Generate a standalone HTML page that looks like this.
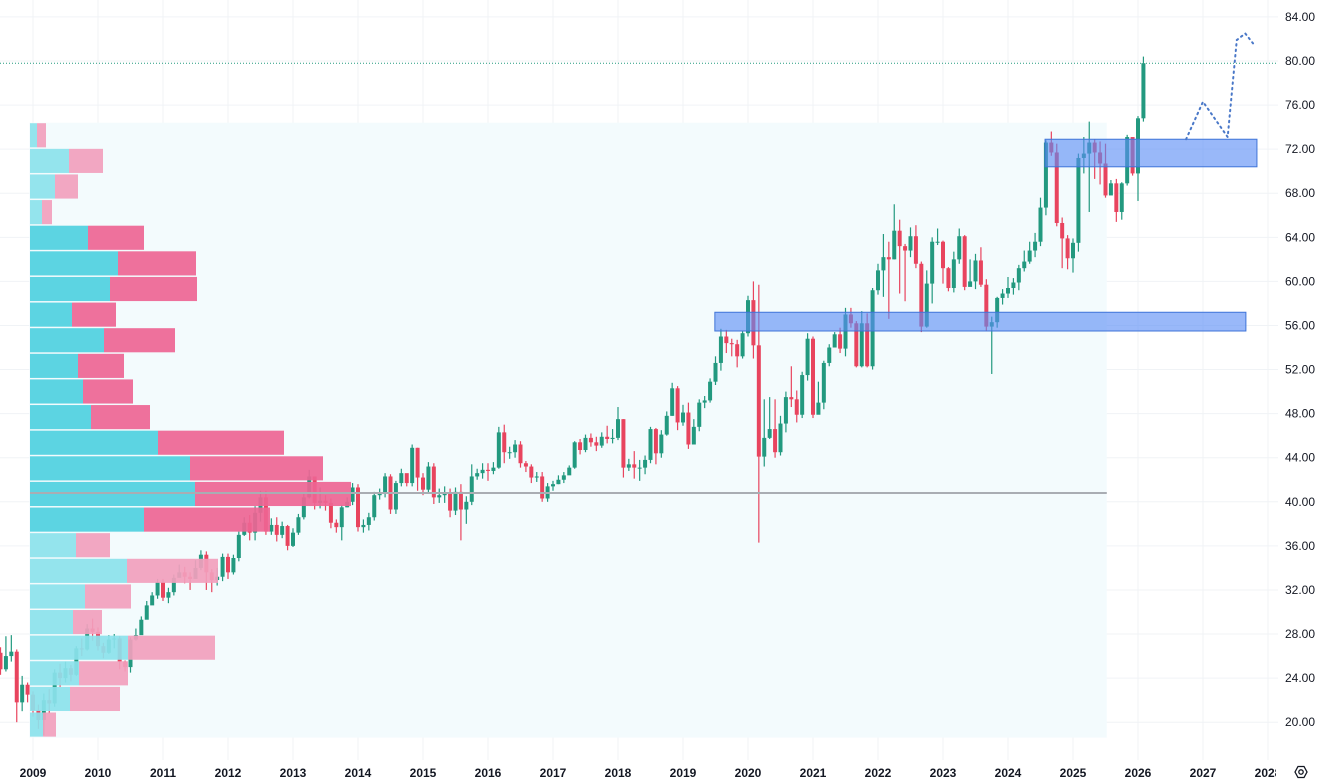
<!DOCTYPE html>
<html><head><meta charset="utf-8">
<style>
html,body{margin:0;padding:0;background:#fff;}
svg{display:block;font-family:"Liberation Sans",sans-serif;}
</style></head>
<body>
<svg id="chart" width="1318" height="784" viewBox="0 0 1318 784" xmlns="http://www.w3.org/2000/svg">
  <rect x="0" y="0" width="1318" height="784" fill="#ffffff"/>
  <g id="grid"></g>
  <g id="profileBg"></g>
  <g id="candles"></g>
  <g id="profile"></g>
  <g id="zones"></g>
  <g id="overlay"></g>
  <rect x="1278" y="0" width="40" height="784" fill="#ffffff"/>
  <g id="yaxis"></g>
  <g id="xaxis"></g>
  <g transform="translate(1301,772)">
    <polygon points="-6,0 -3,-5.5 3,-5.5 6,0 3,5.5 -3,5.5" fill="none" stroke="#131722" stroke-width="1.3"/>
    <circle cx="0" cy="0" r="2.2" fill="none" stroke="#131722" stroke-width="1.3"/>
  </g>
</svg>
<script>
// ---- data ----
const startYear = 2008, startMonth = 6; // Jul 2008 (0-based month)
const firstOpen = 26.3;
const closes = [
24.8,26.0,26.4,21.8,23.4,22.5,
21.1,20.2,22.0,21.7,24.5,24.0,24.9,24.3,26.7,26.6,28.5,28.2,
26.9,26.3,27.5,27.6,25.5,25.0,27.5,27.9,29.3,30.6,31.5,32.7,
31.3,31.8,33.1,33.6,33.2,33.0,34.0,35.2,33.6,32.9,33.2,35.0,
33.6,34.9,37.0,38.1,37.2,39.0,40.4,37.3,37.9,37.0,37.8,36.0,
37.2,38.6,40.4,42.3,39.9,40.1,39.9,38.1,37.7,39.5,40.0,41.3,
37.7,37.9,38.6,40.6,40.8,42.3,39.3,41.7,42.6,41.7,44.9,42.2,
41.1,43.2,40.4,40.6,40.8,39.2,40.9,39.3,40.0,42.3,42.6,42.9,
42.8,43.1,46.3,44.5,44.5,45.2,43.5,43.2,42.2,42.3,40.3,41.4,
41.6,42.0,42.4,43.1,45.4,44.7,45.8,45.4,45.1,45.9,45.7,45.8,
47.5,43.1,43.4,43.1,43.1,43.8,46.6,44.4,46.1,47.8,50.3,47.2,
48.1,45.2,46.8,49.0,49.2,50.9,52.6,55.0,54.4,54.3,53.2,55.3,
58.3,54.2,44.1,45.8,46.6,44.5,47.1,49.5,49.3,47.9,51.5,54.8,
47.9,49.0,52.6,54.0,55.2,53.9,57.0,56.2,52.3,56.2,52.3,59.2,
61.0,62.2,62.0,64.6,63.2,62.8,64.1,61.6,55.9,59.8,63.6,63.6,
61.2,59.4,62.0,64.1,59.5,60.0,61.9,59.7,55.9,56.3,58.5,58.9,
59.4,59.9,61.2,61.8,62.8,63.6,66.7,72.6,71.7,65.3,63.9,62.1,
63.5,71.2,71.6,72.6,71.7,70.7,67.8,68.9,66.3,68.9,73.1,69.8,
74.8,79.8];
const highs = [
26.8,27.8,27.9,26.6,24.2,23.6,
22.8,21.6,22.6,23.0,24.8,25.3,25.5,25.2,26.9,27.6,28.9,29.4,
28.6,27.2,27.9,28.0,27.8,25.6,27.7,28.5,29.6,31.0,31.8,33.0,
33.0,32.2,33.4,34.3,34.1,33.6,34.7,35.6,35.5,33.9,34.0,35.3,
35.3,35.2,37.3,38.6,38.8,39.6,41.0,41.0,38.5,38.6,38.2,37.9,
37.6,38.9,40.8,42.9,42.0,41.3,40.6,40.3,38.4,39.7,40.4,41.7,
41.6,38.4,39.0,40.9,41.2,42.6,42.5,41.9,43.0,42.3,45.2,44.9,
42.6,43.6,43.5,41.2,41.4,41.2,41.3,41.6,40.5,43.4,43.0,43.5,
43.5,43.6,46.8,47.0,45.0,45.6,45.5,43.7,43.4,42.7,42.7,41.7,
41.9,42.4,42.7,43.3,45.5,45.7,46.1,46.2,45.9,46.3,46.9,46.6,
48.6,47.5,43.9,44.6,43.8,44.2,46.8,46.7,46.5,48.2,50.8,50.5,
48.8,49.0,47.5,49.3,49.6,51.2,53.2,55.7,55.6,54.8,54.7,55.5,
58.7,60.0,59.7,49.3,49.5,49.3,47.8,50.0,52.3,50.1,51.8,55.3,
55.0,50.9,52.8,54.3,55.4,55.8,57.6,57.6,56.4,57.3,57.1,59.4,
61.6,64.3,63.6,67.0,65.6,63.4,64.9,65.1,61.8,61.0,64.0,64.8,
63.7,61.3,62.7,64.8,64.2,62.0,62.5,63.1,60.2,56.8,58.6,59.3,
60.4,60.3,61.5,62.8,63.6,64.4,67.6,72.8,73.6,72.5,65.8,64.2,
63.9,71.6,73.1,74.5,72.9,72.7,72.5,69.2,69.3,69.0,73.3,72.7,
75.0,80.4];
const lows = [
24.3,24.6,25.5,20.0,21.0,21.8,
20.5,19.4,18.8,20.8,21.4,23.2,23.6,23.7,24.2,26.0,26.5,27.4,
26.5,25.8,26.2,26.7,24.8,24.6,24.5,27.4,28.4,29.8,30.8,31.2,
31.0,30.8,31.5,33.2,32.6,32.0,33.0,33.8,32.0,31.8,32.4,32.8,
33.0,33.4,34.6,36.9,36.5,36.5,38.2,37.0,37.0,36.4,36.7,35.6,
35.9,37.0,38.4,40.3,39.3,39.4,39.2,37.6,37.2,36.5,39.5,39.7,
37.3,37.2,37.4,38.3,40.2,40.4,38.9,38.9,41.4,41.4,41.4,41.0,
40.6,40.8,39.8,39.9,39.9,38.6,38.8,36.5,38.0,39.7,42.0,42.1,
41.9,42.5,43.0,43.5,43.9,44.0,43.1,42.7,41.7,41.8,40.0,40.0,
41.0,41.6,41.7,42.6,43.0,44.3,44.5,45.0,44.6,44.9,45.3,45.3,
45.6,42.2,42.8,42.1,41.9,42.5,43.5,43.4,44.0,46.0,47.8,46.5,
46.9,44.8,45.2,46.4,48.5,49.0,50.6,51.9,53.5,53.2,52.2,53.0,
55.0,53.0,36.3,43.2,45.7,44.0,44.2,46.3,48.6,47.2,47.6,51.0,
47.6,48.6,48.4,52.3,54.3,53.5,53.2,55.8,52.2,52.2,52.2,52.0,
58.8,58.6,56.6,62.0,58.9,58.2,62.2,61.2,55.4,55.8,58.0,63.3,
59.8,59.1,59.0,61.6,59.2,59.6,59.3,59.5,55.5,51.6,55.8,57.9,
58.5,58.8,59.2,60.9,61.6,62.2,63.2,66.0,71.4,65.0,61.2,61.1,
60.8,62.7,69.8,66.3,69.3,68.8,67.6,68.3,65.4,65.6,68.7,69.6,
67.3,74.5];
// volume profile rows (top row first), relative volume units
const profileTop = 74.4, profileBottom = 18.6;
const upVol   = [7,39,25,12,58,88,80,42,74,48,53,61,128,160,165,114,46,97,55,43,98,49,40,13];
const downVol = [9,34,23,10,56,78,87,44,71,46,50,59,126,133,156,126,34,91,46,29,87,49,50,13];
const valueAreaRows = [4,15]; // inclusive
const pocPrice = 40.8;
const profileStartYear = 2008.99, profileEndYear = 2025.52;
const zoneA = {y1:57.2, y2:55.5, t1:2019.49, t2:2027.66};
const zoneB = {y1:72.9, y2:70.4, t1:2024.57, t2:2027.83};
const projTimes  = [2026.74, 2027.0, 2027.38, 2027.52, 2027.65, 2027.77];
const projPrices = [72.9, 76.3, 73.1, 81.9, 82.5, 81.6];
const lastPrice = 79.8;
const yTicks = [20,24,28,32,36,40,44,48,52,56,60,64,68,72,76,80,84];
const xTicks = ["2009","2010","2011","2012","2013","2014","2015","2016","2017","2018","2019","2020","2021","2022","2023","2024","2025","2026","2027","2028"];

// ---- scales ----
function yS(v){ return 61 + (80 - v) * 11.02; }
function xT(t){ return 33 + (t - 2009) * 65.0; }
function xIdx(i){ return xT(startYear + (startMonth + i) / 12); }
const NS = "http://www.w3.org/2000/svg";
function mk(tag, attrs, parent){ const e=document.createElementNS(NS,tag); for(const k in attrs) e.setAttribute(k,attrs[k]); parent.appendChild(e); return e; }

const grid = document.getElementById('grid');
yTicks.forEach(v=>{ const l=mk('line',{x1:0,x2:1278,y1:yS(v),y2:yS(v),stroke:'#f0f3f6','stroke-width':1},grid);

 });
xTicks.forEach(t=>{ const x=xT(+t); const l=mk('line',{x1:x,x2:x,y1:0,y2:760,stroke:'#f0f3f6','stroke-width':1},grid);

 });

// profile background
const pbg = document.getElementById('profileBg');
const bgR = mk('rect',{x:xT(profileStartYear)-3,y:yS(profileTop),width:xT(profileEndYear)-xT(profileStartYear)+3,height:yS(profileBottom)-yS(profileTop),fill:'#f3fbfd'},pbg);



// candles
const cg = document.getElementById('candles');
closes.forEach((c,i)=>{
  const o = i===0 ? firstOpen : closes[i-1];
  const up = c >= o;
  const col = up ? '#22997f' : '#e8445e';
  const x = xIdx(i);
  const g = mk('g',{},cg);
  
  
  mk('line',{x1:x,x2:x,y1:yS(highs[i]),y2:yS(lows[i]),stroke:col,'stroke-width':1.2},g);
  const top = yS(Math.max(o,c)), bot = yS(Math.min(o,c));
  mk('rect',{x:x-2,y:top,width:4,height:Math.max(1,bot-top),fill:col},g);
});

// volume profile
const pg = document.getElementById('profile');
const nRows = upVol.length;
const rowH = (yS(profileBottom)-yS(profileTop))/nRows;
const maxTot = Math.max(...upVol.map((u,i)=>u+downVol[i]));
const maxW = 321;
const px0 = 30;
for(let r=0;r<nRows;r++){
  const inVA = r>=valueAreaRows[0] && r<=valueAreaRows[1];
  const y = yS(profileTop) + r*rowH;
  const wu = upVol[r]/maxTot*maxW, wd = downVol[r]/maxTot*maxW;
  const a = mk('rect',{x:px0,y:y+0.5,width:wu,height:rowH-1.5,fill:inVA?'#4fd0e0':'#8ce2ec',opacity:0.92},pg);
  
  
  const b = mk('rect',{x:px0+wu,y:y+0.5,width:wd,height:rowH-1.5,fill:inVA?'#ee6594':'#f29fbd',opacity:0.92},pg);
  
  
}
const poc = mk('line',{x1:px0,x2:xT(profileEndYear),y1:yS(pocPrice),y2:yS(pocPrice),stroke:'#a9adb3','stroke-width':2},pg);



// zones
const zg = document.getElementById('zones');
[zoneA,zoneB].forEach(z=>{
  const r = mk('rect',{x:xT(z.t1),y:yS(z.y1),width:xT(z.t2)-xT(z.t1),height:yS(z.y2)-yS(z.y1),fill:'rgba(90,140,245,0.62)',stroke:'#3f74d8','stroke-width':1},zg);
  
  
});

// overlay: last price line and projection
const og = document.getElementById('overlay');
const lp = mk('line',{x1:0,x2:1278,y1:yS(lastPrice),y2:yS(lastPrice),stroke:'#22997f','stroke-width':1,'stroke-dasharray':'1 2'},og);


const pts = projTimes.map((t,i)=>xT(t)+','+yS(projPrices[i])).join(' ');
const pl = mk('polyline',{points:pts,fill:'none',stroke:'#4a78c8','stroke-width':2,'stroke-dasharray':'1.5 4','stroke-linecap':'round'},og);



// axes
const ya = document.getElementById('yaxis');
yTicks.forEach(v=>{ const t=mk('text',{x:1285,y:yS(v)+4,'font-size':12,fill:'#131722'},ya); t.textContent=v.toFixed(2);

 });
const xa = document.getElementById('xaxis');
xTicks.forEach(s=>{ const t=mk('text',{x:xT(+s),y:777,'font-size':12,'font-weight':'bold',fill:'#131722','text-anchor':'middle'},xa); t.textContent=s;

 });
const cover = mk('rect',{x:1276,y:762,width:42,height:22,fill:'#ffffff'},xa);


</script>
</body></html>
